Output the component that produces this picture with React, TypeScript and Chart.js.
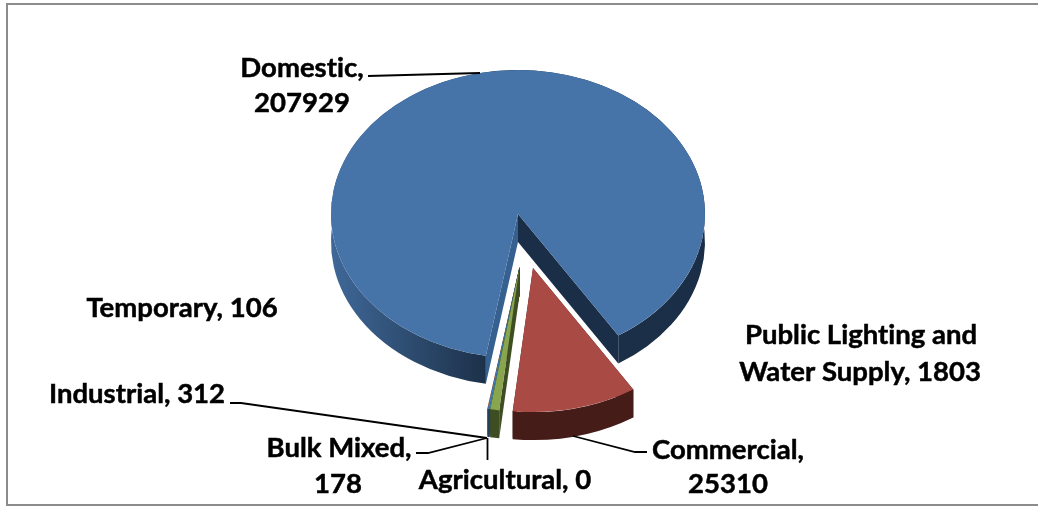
import React, { useEffect, useRef } from "react";
import { Chart, registerables } from "chart.js";

Chart.register(...registerables);

// Electricity consumers by tariff class
const categories = ["Domestic", "Commercial", "Public Lighting and Water Supply", "Agricultural", "Bulk Mixed", "Industrial", "Temporary"];
const values = [207929, 25310, 1803, 0, 178, 312, 106];

const topColors = ["#4674a9", "#aa4a45", "#89a54e", "#71588f", "#4198af", "#4a7ebb", "#db843d"];
const sideColors = ["#1a2e47", "#451c18", "#3e4d22", "#33284a", "#23405c", "#23405c", "#5a4a38"];

// Pull-out of each slice, horizontal and vertical, on the tilted plane
const explodeX = [0, 15, 1.5, 1.5, 1.5, 1.5, 1.5];
const explodeY = [0, 54, 53, 53, 53, 53, 53];

// Back-to-front painting sequence
const paintOrder = [0, 6, 5, 4, 3, 2, 1];

const TILT = 144 / 187;
const DEPTH = 28;
const FONT = 'bold 27.5px Lato, "Open Sans", sans-serif';

// Label text lines with anchor (centre x, baseline y)
const labelLines = [
  { i: 0, part: "name", x: 302, y: 77 },
  { i: 0, part: "value", x: 302, y: 112 },
  { i: 6, part: "both", x: 182, y: 317 },
  { i: 2, text: "Public Lighting and", x: 861, y: 344 },
  { i: 2, text: "Water Supply, 1803", x: 860, y: 381 },
  { i: 5, part: "both", x: 137, y: 403 },
  { i: 4, part: "name", x: 339, y: 457 },
  { i: 4, part: "value", x: 338, y: 493 },
  { i: 3, part: "both", x: 505, y: 489 },
  { i: 1, part: "name", x: 728, y: 459 },
  { i: 1, part: "value", x: 728, y: 493 },
];

const leaders = [
  [[368, 76], [480, 73]],
  [[230, 403], [241, 403], [487, 438]],
  [[416, 453], [428, 453], [487, 438]],
  [[487.5, 438], [487.5, 460]],
  [[573, 436], [635, 452], [647, 452]],
];

const pie3d = {
  id: "pie3d",
  beforeDraw(chart: any) {
    const { ctx } = chart;
    ctx.save();
    ctx.strokeStyle = "#8c8c8c";
    ctx.lineWidth = 2;
    ctx.strokeRect(7, 4, 1040, 501);
    ctx.restore();
  },
  beforeDatasetDraw(chart: any) {
    const { ctx } = chart;
    const arcs = chart.getDatasetMeta(0).data;
    paintOrder.forEach((i) => {
      const arc: any = arcs[i];
      const { x, y, startAngle, endAngle, outerRadius } = arc;
      if (endAngle - startAngle <= 0) return;
      const cx = x + explodeX[i];
      const cy = y + explodeY[i];
      const ry = outerRadius * TILT;
      const px = (a: number) => cx + outerRadius * Math.cos(a);
      const py = (a: number) => cy + ry * Math.sin(a);

      // Cut faces of the slice
      const face = (a: number, color: string) => {
        ctx.beginPath();
        ctx.moveTo(cx, cy);
        ctx.lineTo(px(a), py(a));
        ctx.lineTo(px(a), py(a) + DEPTH);
        ctx.lineTo(cx, cy + DEPTH);
        ctx.closePath();
        ctx.fillStyle = color;
        ctx.fill();
      };
      face(endAngle, sideColors[i]);
      face(startAngle, i === 0 ? "#35608f" : sideColors[i]);

      // Outer rim
      let rim: any = sideColors[i];
      if (i === 0) {
        rim = ctx.createLinearGradient(cx - outerRadius, 0, cx + outerRadius, 0);
        rim.addColorStop(0, "#3f6898");
        rim.addColorStop(0.42, "#1c3048");
        rim.addColorStop(1, "#1a2e47");
      }
      ctx.beginPath();
      ctx.ellipse(cx, cy, outerRadius, ry, 0, startAngle, endAngle);
      ctx.ellipse(cx, cy + DEPTH, outerRadius, ry, 0, endAngle, startAngle, true);
      ctx.closePath();
      ctx.fillStyle = rim;
      ctx.fill();

      // Top surface, drawn by the arc element on the tilted plane
      ctx.save();
      ctx.translate(cx, cy);
      ctx.scale(1, TILT);
      ctx.translate(-x, -y);
      arc.draw(ctx);
      ctx.restore();
    });
    return false;
  },
  afterDatasetsDraw(chart: any) {
    const { ctx } = chart;
    ctx.save();
    ctx.strokeStyle = "#000";
    ctx.lineWidth = 1.8;
    leaders.forEach((pts) => {
      ctx.beginPath();
      pts.forEach(([px, py], k) => (k ? ctx.lineTo(px, py) : ctx.moveTo(px, py)));
      ctx.stroke();
    });
    ctx.fillStyle = "#000";
    ctx.font = FONT;
    ctx.letterSpacing = "0.01px";
    ctx.textAlign = "center";
    ctx.textBaseline = "alphabetic";
    ctx.lineWidth = 0.5;
    labelLines.forEach((l: any) => {
      const name = categories[l.i];
      const value = values[l.i];
      const text = l.text ?? (l.part === "name" ? `${name},` : l.part === "value" ? `${value}` : `${name}, ${value}`);
      ctx.fillText(text, l.x, l.y);
      ctx.strokeText(text, l.x, l.y);
    });
    ctx.restore();
  },
};

export default function App() {
  const ref = useRef<HTMLCanvasElement>(null);
  useEffect(() => {
    document.body.style.margin = "0";
    const chart = new Chart(ref.current!, {
      type: "pie",
      data: {
        labels: categories,
        datasets: [{ data: values, backgroundColor: topColors, borderWidth: 0 }],
      },
      options: {
        responsive: false,
        animation: false,
        rotation: 189.9,
        radius: 187,
        layout: { padding: { right: 2, bottom: 79 } },
        plugins: { legend: { display: false }, tooltip: { enabled: false } },
      },
      plugins: [pie3d],
    } as any);
    return () => chart.destroy();
  }, []);
  return <canvas ref={ref} width={1038} height={507} style={{ display: "block" }} />;
}
